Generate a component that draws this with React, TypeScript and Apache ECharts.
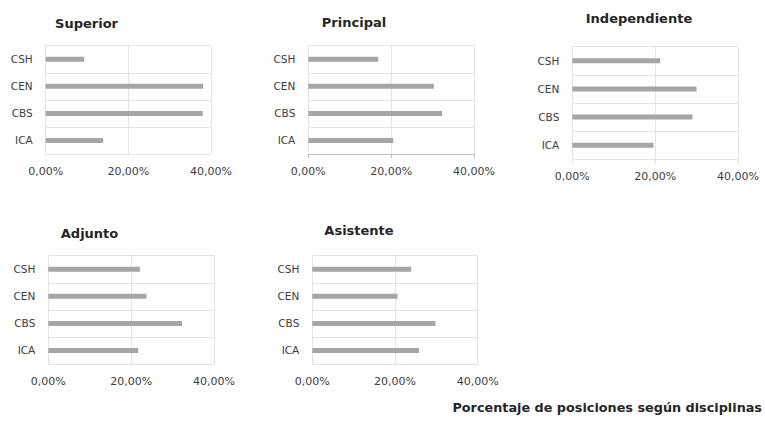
import React, { useEffect, useRef } from "react";
import * as echarts from "echarts";

const categories = ["CSH", "CEN", "CBS", "ICA"];
const panelTitles = ["Superior", "Principal", "Independiente", "Adjunto", "Asistente"];
const superiorValues = [9.3, 38.1, 38.0, 13.9];
const principalValues = [16.9, 30.3, 32.3, 20.5];
const independienteValues = [21.2, 30.0, 29.0, 19.6];
const adjuntoValues = [22.1, 23.7, 32.3, 21.7];
const asistenteValues = [23.9, 20.6, 29.8, 25.8];
const xTicks = [0, 20, 40];
const footTitle = "Porcentaje de posiciones según disciplinas";

const FONT = "DejaVu Sans";

export default function App() {
  const ref = useRef<HTMLDivElement>(null);
  useEffect(() => {
    if (!ref.current) return;
    const chart = echarts.init(ref.current, undefined, { renderer: "svg" });
    const allValues = [superiorValues, principalValues, independienteValues, adjuntoValues, asistenteValues];
    const grids = [
      { left: 45.7, top: 45.7, width: 165.3, height: 108.3 },
      { left: 308.3, top: 45.7, width: 165.7, height: 108.3 },
      { left: 572.3, top: 46.7, width: 165.7, height: 112.6 },
      { left: 48.3, top: 255.7, width: 165.7, height: 108.3 },
      { left: 312.3, top: 255.7, width: 165.4, height: 108.3 },
    ];
    const titlePos = [
      [86.5, 23],
      [354, 22],
      [639, 18.5],
      [89.5, 233.5],
      [359, 230.5],
    ];
    const fmt = (v: number) => v.toFixed(2).replace(".", ",") + "%";
    const option: any = {
      animation: false,
      backgroundColor: "#ffffff",
      grid: grids.map((g) => ({ ...g, containLabel: false })),
      xAxis: grids.map((_, i) => ({
        type: "value",
        gridIndex: i,
        min: xTicks[0],
        max: xTicks[xTicks.length - 1],
        interval: xTicks[1] - xTicks[0],
        axisLine: { show: i === 1, lineStyle: { color: "#bfbfbf", width: 1 } },
        axisTick: {
          show: i === 1 || i === 2,
          length: i === 1 ? 4 : 5,
          lineStyle: { color: i === 1 ? "#bfbfbf" : "#e3e3e3" },
        },
        splitLine: { show: true, lineStyle: { color: "#e3e3e3", width: 1 } },
        axisLabel: {
          formatter: fmt,
          color: "#404040",
          fontFamily: FONT,
          fontSize: 11,
          margin: 12,
        },
      })),
      yAxis: grids.map((_, i) => ({
        type: "category",
        gridIndex: i,
        data: categories,
        inverse: true,
        axisLine: { show: false },
        axisTick: { show: false },
        splitLine: { show: true, lineStyle: { color: "#e3e3e3", width: 1 } },
        axisLabel: {
          color: "#404040",
          fontFamily: FONT,
          fontSize: 10.5,
          margin: 13,
        },
      })),
      series: allValues.map((vals, i) => ({
        type: "bar",
        xAxisIndex: i,
        yAxisIndex: i,
        data: vals,
        barWidth: 5,
        itemStyle: { color: "#a6a6a6" },
      })),
      graphic: [
        ...panelTitles.map((t, i) => ({
          type: "text",
          x: titlePos[i][0],
          y: titlePos[i][1],
          style: {
            text: t,
            fill: "#262626",
            font: `bold 13px "${FONT}"`,
            textAlign: "center",
            textVerticalAlign: "middle",
          },
        })),
        {
          type: "text",
          x: 762,
          y: 407,
          style: {
            text: footTitle,
            fill: "#262626",
            font: `bold 12.8px "${FONT}"`,
            textAlign: "right",
            textVerticalAlign: "middle",
          },
        },
      ],
    };
    chart.setOption(option);
    return () => chart.dispose();
  }, []);
  return (
    <div
      ref={ref}
      style={{ position: "fixed", left: 0, top: 0, width: 765, height: 424 }}
    />
  );
}
